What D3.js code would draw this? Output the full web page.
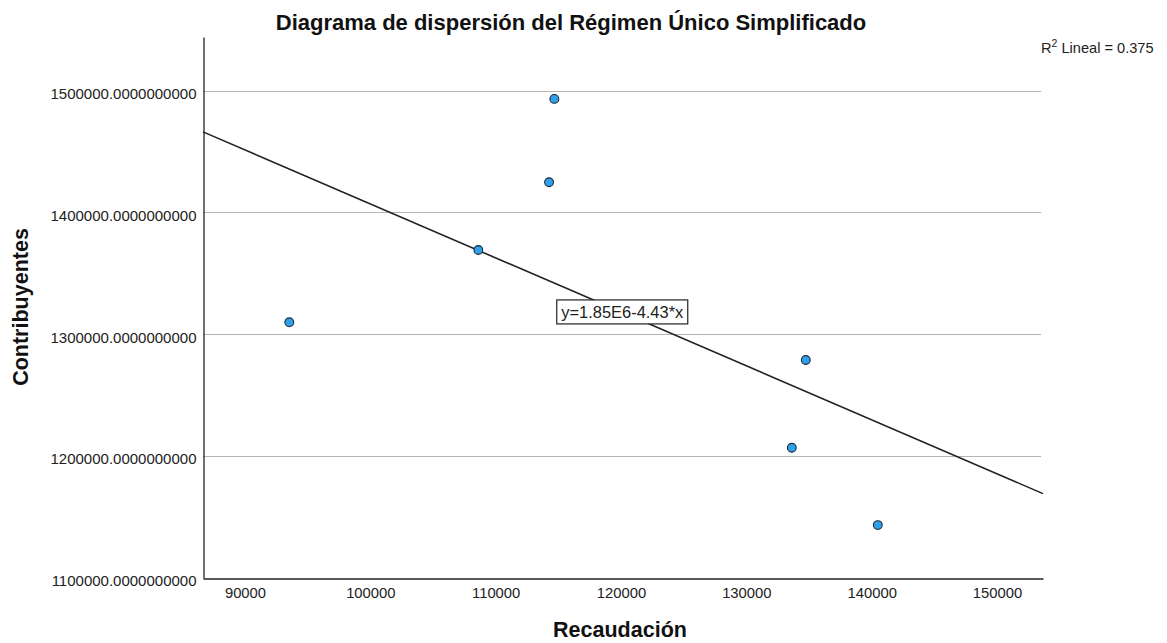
<!DOCTYPE html>
<html>
<head>
<meta charset="utf-8">
<script src="https://cdn.jsdelivr.net/npm/d3@7"></script>
<style>
  html, body { margin: 0; padding: 0; background: #fff; }
  svg { display: block; font-family: "Liberation Sans", Arial, sans-serif; }
</style>
</head>
<body>
<svg id="chart" width="1167" height="643"></svg>
<script>
// Recaudación (x) vs. Contribuyentes (y)
const recaudacion    = [93535, 108618, 114260, 114683, 134744, 133627, 140490];
const contribuyentes = [1309850, 1369210, 1424800, 1493190, 1278900, 1206900, 1143430];

const xTicks = [90000, 100000, 110000, 120000, 130000, 140000, 150000];
const yTicks = [1100000, 1200000, 1300000, 1400000, 1500000];

// Fitted line as reported: y = 1.85E6 - 4.43*x, R² = 0.375
const fitIntercept = 1.85e6;
const fitSlope = -4.43;
const fitLabel = "y=1.85E6-4.43*x";
const r2Value = "0.375";
const fitLabelAt = 120100;

const title = "Diagrama de dispersión del Régimen Único Simplificado";
const xTitle = "Recaudación";
const yTitle = "Contribuyentes";

const svg = d3.select("#chart");
const plot = { left: 203, right: 1043, top: 37, bottom: 578 };

const x = d3.scaleLinear().domain([86650, 153670]).range([plot.left, plot.right]);
const y = d3.scaleLinear().domain([1100000, 1544000]).range([plot.bottom, plot.top]);

// Horizontal gridlines
svg.append("g")
  .selectAll("line")
  .data(yTicks.filter(d => d !== 1100000))
  .join("line")
  .attr("x1", plot.left).attr("x2", plot.right - 2)
  .attr("y1", d => Math.round(y(d)) + 0.5).attr("y2", d => Math.round(y(d)) + 0.5)
  .attr("stroke", "#b4b4b4").attr("stroke-width", 1.2);

// Y axis
const yAxis = svg.append("g")
  .attr("transform", `translate(${plot.left + 0.5},0)`)
  .call(d3.axisLeft(y).tickValues(yTicks).tickFormat(d3.format(".10f")).tickSize(0).tickPadding(7));
yAxis.select(".domain").attr("stroke", "#222").attr("stroke-width", 1.3);
yAxis.selectAll("text")
  .attr("font-size", "15px").attr("fill", "#222")
  .attr("font-family", "Liberation Sans, Arial, sans-serif")
  .attr("dy", "0.52em");

// X axis
const xAxis = svg.append("g")
  .attr("transform", `translate(0,${plot.bottom + 0.5})`)
  .call(d3.axisBottom(x).tickValues(xTicks).tickFormat(d3.format("d")).tickSize(0).tickPadding(9));
xAxis.select(".domain").attr("stroke", "#222").attr("stroke-width", 1.3);
xAxis.selectAll("text")
  .attr("font-size", "14.8px").attr("fill", "#222")
  .attr("font-family", "Liberation Sans, Arial, sans-serif");

// Regression line across the x domain
const [x0, x1] = x.domain();
const fit = v => fitIntercept + fitSlope * v;
svg.append("line")
  .attr("x1", x(x0)).attr("y1", y(fit(x0)))
  .attr("x2", x(x1)).attr("y2", y(fit(x1)))
  .attr("stroke", "#222").attr("stroke-width", 1.6);

// Points
svg.append("g")
  .selectAll("circle")
  .data(recaudacion.map((v, i) => [v, contribuyentes[i]]))
  .join("circle")
  .attr("cx", d => x(d[0])).attr("cy", d => y(d[1]))
  .attr("r", 4.4)
  .attr("fill", "#2fa0ec").attr("stroke", "#1c2a36").attr("stroke-width", 1.1);

// Equation label on the line
const lx = x(fitLabelAt), ly = y(fit(fitLabelAt));
const eq = svg.append("g").attr("transform", `translate(${lx},${ly})`);
eq.append("rect")
  .attr("x", -65.5).attr("y", -12.5)
  .attr("width", 131).attr("height", 24)
  .attr("fill", "#fff").attr("stroke", "#222").attr("stroke-width", 1.2);
eq.append("text")
  .attr("text-anchor", "middle").attr("dy", "0.36em")
  .attr("font-size", "16px").attr("fill", "#222")
  .attr("textLength", 122).attr("lengthAdjust", "spacingAndGlyphs")
  .text(fitLabel);

// R² note
const r2 = svg.append("text")
  .attr("x", 1041).attr("y", 53)
  .attr("font-size", "14.6px").attr("fill", "#222");
r2.append("tspan").text("R");
r2.append("tspan").attr("dy", -6).attr("font-size", "10.5px").text("2");
r2.append("tspan").attr("dy", 6).text(" Lineal = " + r2Value);

// Titles
svg.append("text")
  .attr("x", 571).attr("y", 30)
  .attr("text-anchor", "middle")
  .attr("font-size", "22px").attr("font-weight", "bold").attr("fill", "#111")
  .text(title);

svg.append("text")
  .attr("x", 620).attr("y", 637)
  .attr("text-anchor", "middle")
  .attr("font-size", "21.5px").attr("font-weight", "bold").attr("fill", "#111")
  .text(xTitle);

svg.append("text")
  .attr("transform", "translate(28,307) rotate(-90)")
  .attr("text-anchor", "middle")
  .attr("font-size", "21.5px").attr("font-weight", "bold").attr("fill", "#111")
  .text(yTitle);
</script>
</body>
</html>
